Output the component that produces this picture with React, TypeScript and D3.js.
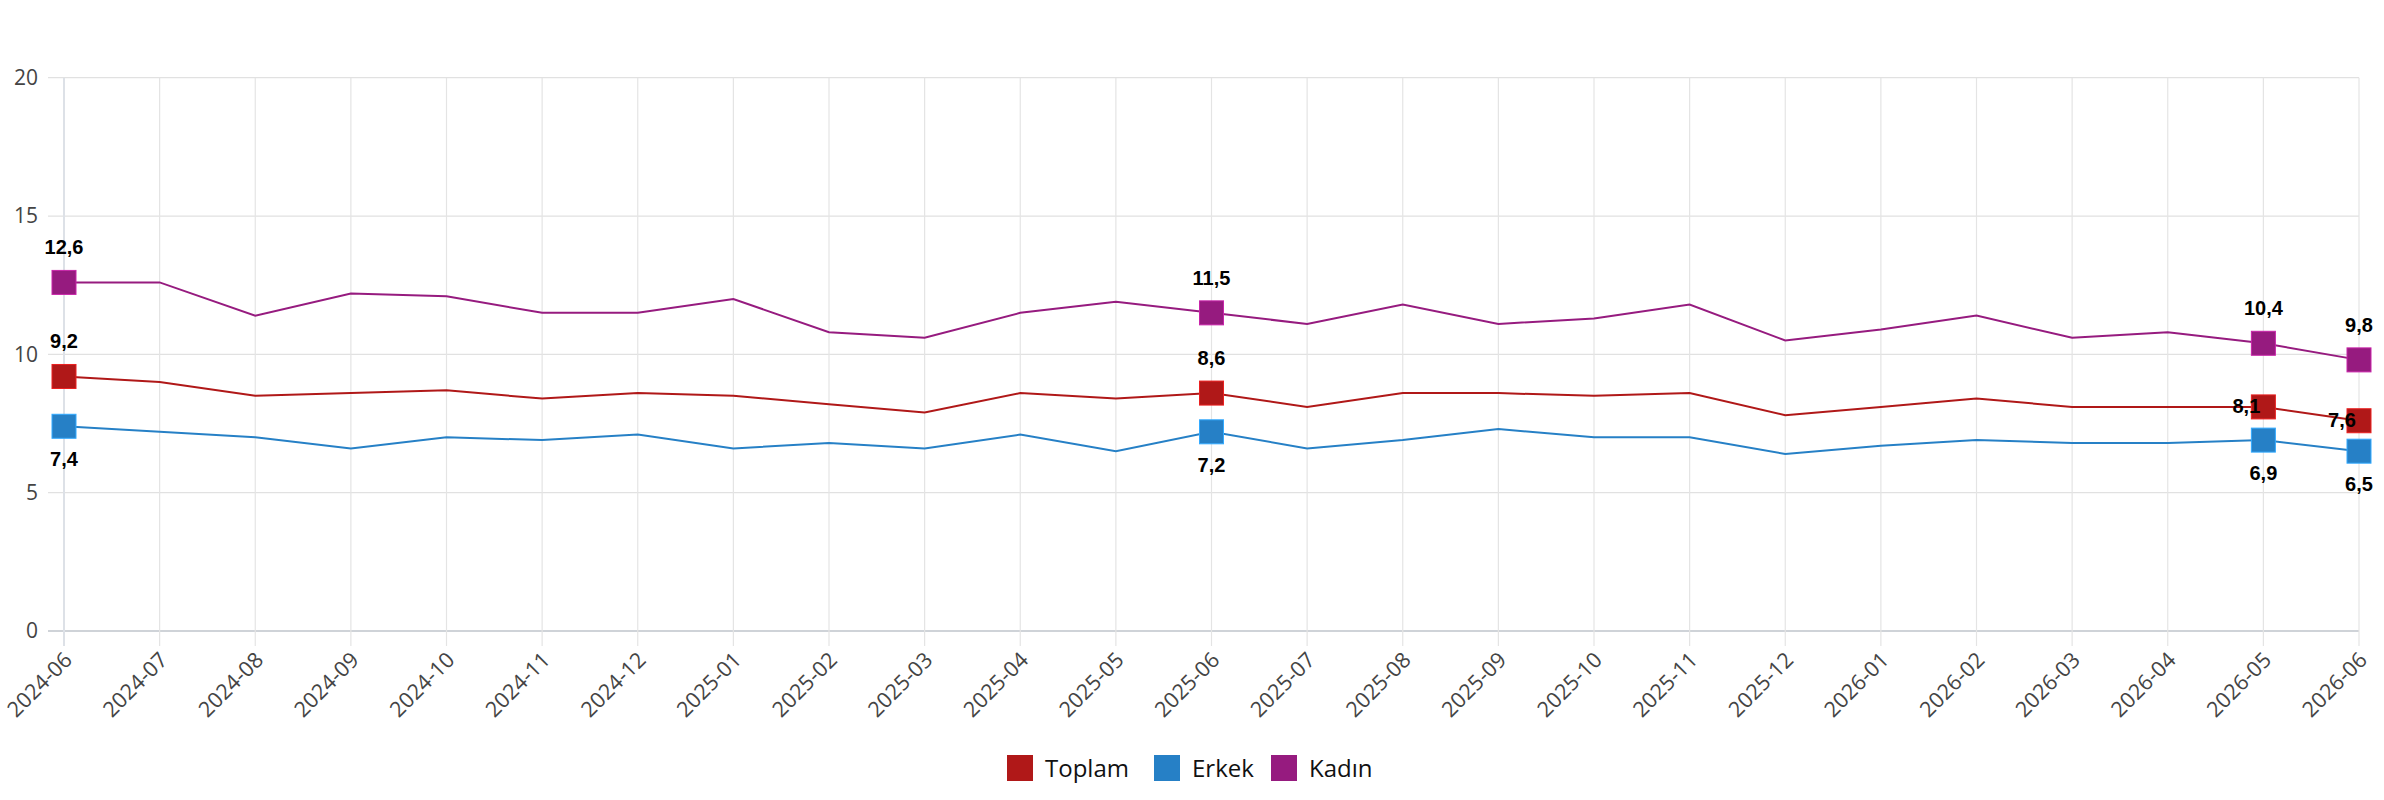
import * as d3 from "d3";
import { useEffect } from "react";

const months = [
  "2024-06", "2024-07", "2024-08", "2024-09", "2024-10", "2024-11", "2024-12",
  "2025-01", "2025-02", "2025-03", "2025-04", "2025-05", "2025-06", "2025-07",
  "2025-08", "2025-09", "2025-10", "2025-11", "2025-12", "2026-01", "2026-02",
  "2026-03", "2026-04", "2026-05", "2026-06",
];

const toplam = [9.2, 9.0, 8.5, 8.6, 8.7, 8.4, 8.6, 8.5, 8.2, 7.9, 8.6, 8.4, 8.6, 8.1, 8.6, 8.6, 8.5, 8.6, 7.8, 8.1, 8.4, 8.1, 8.1, 8.1, 7.6];
const erkek = [7.4, 7.2, 7.0, 6.6, 7.0, 6.9, 7.1, 6.6, 6.8, 6.6, 7.1, 6.5, 7.2, 6.6, 6.9, 7.3, 7.0, 7.0, 6.4, 6.7, 6.9, 6.8, 6.8, 6.9, 6.5];
const kadin = [12.6, 12.6, 11.4, 12.2, 12.1, 11.5, 11.5, 12.0, 10.8, 10.6, 11.5, 11.9, 11.5, 11.1, 11.8, 11.1, 11.3, 11.8, 10.5, 10.9, 11.4, 10.6, 10.8, 10.4, 9.8];

const seriesNames = ["Toplam", "Erkek", "Kadın"];
const seriesColors = ["#b01818", "#2680c6", "#961b7f"];
const yTicks = [0, 5, 10, 15, 20];
// months that carry a marker and a value label
const markedMonths = ["2024-06", "2025-06", "2026-05", "2026-06"];

const width = 2384
const height = 800

export default function App() {
  useEffect(() => {
    document.body.style.margin = "0"
  }, [])

  const x = d3.scalePoint<string>().domain(months).range([64, 2359])
  const y = d3.scaleLinear().domain([0, 20]).range([631, 77.7])

  const series = [toplam, erkek, kadin]
  const line = d3.line<number>()
    .x((_, i) => x(months[i]) as number)
    .y(d => y(d))

  const fmt = (v: number) => v.toFixed(1).replace(".", ",")
  const markSize = 24

  // label placement per series: Toplam above (last two shifted left), Erkek below, Kadın above
  const labelPos = (s: number, i: number, v: number) => {
    const cx = x(months[i]) as number
    const cy = y(v)
    if (s === 1) return { lx: cx, ly: cy + 33 }
    if (s === 0 && i >= months.length - 2) return { lx: cx - 17, ly: cy - 1 }
    return { lx: cx, ly: cy - 35 }
  }

  // legend layout
  const legendItems = [
    { name: seriesNames[0], x: 1007 },
    { name: seriesNames[1], x: 1154 },
    { name: seriesNames[2], x: 1271 },
  ]

  return (
    <svg width={width} height={height} style={{ display: "block", background: "#fff" }}>
      {/* horizontal grid */}
      {yTicks.map(t => (
        <g key={t}>
          <line x1={48} x2={2359} y1={y(t)} y2={y(t)}
            stroke={t === 0 ? "#cfd3d8" : "#e1e1e1"} strokeWidth={t === 0 ? 2 : 1.2} />
          <text x={38} y={y(t)} dy="0.35em" textAnchor="end" fontSize={21}
            fontFamily="'Open Sans', 'Noto Sans', sans-serif" fill="#444">{t}</text>
        </g>
      ))}
      {/* vertical grid */}
      {months.map((m, i) => (
        <line key={m} x1={x(m)} x2={x(m)} y1={y(20)} y2={646}
          stroke={i === 0 ? "#dde1e7" : "#e4e4e4"} strokeWidth={i === 0 ? 2 : 1.2} />
      ))}
      {/* x labels */}
      {months.map(m => (
        <text key={m} transform={`translate(${(x(m) as number) + 4},${656}) rotate(-45)`}
          textAnchor="end" dy="0.35em" fontSize={21.5}
          fontFamily="'Open Sans', 'Noto Sans', sans-serif" fill="#444">{m}</text>
      ))}
      {/* lines */}
      {series.map((vals, s) => (
        <path key={s} d={line(vals) || ""} fill="none" stroke={seriesColors[s]} strokeWidth={2} />
      ))}
      {/* markers */}
      {series.map((vals, s) => markedMonths.map(m => {
        const i = months.indexOf(m)
        return (
          <rect key={`${s}-${m}`} x={(x(m) as number) - markSize / 2} y={y(vals[i]) - markSize / 2}
            width={markSize} height={markSize} fill={seriesColors[s]}
            stroke={d3.color(seriesColors[s])?.brighter(0.8).toString()} strokeWidth={1} />
        )
      }))}
      {/* value labels */}
      {series.map((vals, s) => markedMonths.map(m => {
        const i = months.indexOf(m)
        const { lx, ly } = labelPos(s, i, vals[i])
        return (
          <text key={`l${s}-${m}`} x={lx} y={ly} dy="0.35em" textAnchor="middle"
            fontSize={20} fontWeight="bold"
            fontFamily="'Liberation Sans', Arial, sans-serif"
            fill="#000">{fmt(vals[i])}</text>
        )
      }))}
      {/* legend */}
      {legendItems.map((it, s) => (
        <g key={it.name} transform={`translate(${it.x},755)`}>
          <rect width={26} height={26} fill={seriesColors[s]} />
          <text x={38} y={13} dy="0.36em" fontSize={24}
            fontFamily="'Open Sans', Lato, sans-serif" fill="#111">{it.name}</text>
        </g>
      ))}
    </svg>
  )
}
